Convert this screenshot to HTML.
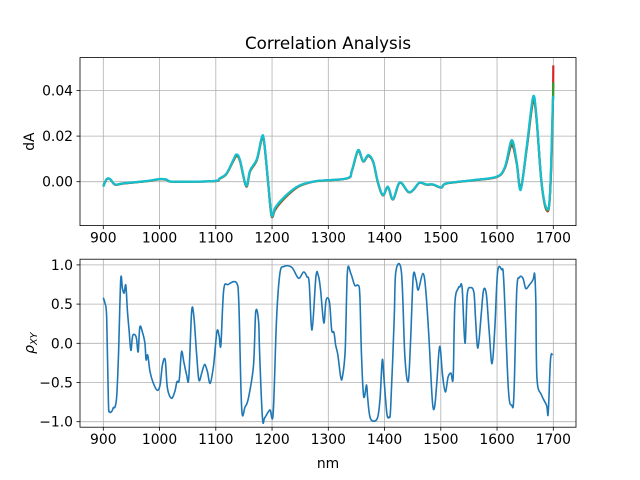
<!DOCTYPE html>
<html><head><meta charset="utf-8"><style>
html,body{margin:0;padding:0;background:#fff;}
svg{display:block;font-family:"DejaVu Sans","Liberation Sans",sans-serif;}
</style></head><body>
<svg id="chart" width="640" height="480" viewBox="0 0 640 480">
<rect width="640" height="480" fill="#fff"/>
<g id="topPanel"></g>
<g id="botPanel"></g>
<text x="328" y="49" text-anchor="middle" font-size="16.7">Correlation Analysis</text>
<text x="0" y="0" transform="translate(34,141.6) rotate(-90)" text-anchor="middle" font-size="13.9">dA</text>
<text x="0" y="0" transform="translate(34,343.2) rotate(-90)" text-anchor="middle" font-size="13.9"><tspan font-style="italic">ρ</tspan><tspan font-style="italic" font-size="9.7" dy="3">XY</tspan></text>
<text x="328" y="468" text-anchor="middle" font-size="13.9">nm</text>
</svg>
<script>
const xTicks=[900,1000,1100,1200,1300,1400,1500,1600,1700];
const topYTicks=[0.00,0.02,0.04];
const topYTickLabels=["0.00","0.02","0.04"];
const botYTicks=[-1.0,-0.5,0.0,0.5,1.0];
const botYTickLabels=["−1.0","−0.5","0.0","0.5","1.0"];
const specNm=[900,906,912,921,936,977,1001,1013,1024,1096,1107,1119,1131,1137,1143,1154,1161,1173,1182,1186,1193,1199,1205,1214,1232,1250,1279,1333,1342,1353,1362,1371,1380,1388,1397,1406,1415,1427,1442,1451,1462,1474,1486,1501,1510,1558,1599,1614,1626,1635,1642,1653,1664,1670,1679,1688,1694,1699,1700];
const specCyan=[-0.0022,0.0012,0.0012,-0.0012,-0.0007,0.0003,0.0012,0.0009,0,0.0003,0.0015,0.0036,0.0095,0.012,0.0095,-0.0017,0.005,0.010,0.0197,0.0175,0,-0.0146,-0.0116,-0.0087,-0.0044,-0.0015,0.0003,0.0015,0.005,0.0139,0.009,0.0117,0.0087,0,-0.0058,-0.0022,-0.0076,-0.0003,-0.0044,-0.0036,-0.0004,-0.0012,-0.0012,-0.0025,-0.0007,0.0007,0.0022,0.0065,0.0182,0.0087,-0.0036,0.016,0.0371,0.029,0,-0.0116,-0.0058,0.0335,0.036];
const specRed=[-0.0018,0.0010,0.0011,-0.0013,-0.0008,0.0002,0.0011,0.0008,0,0.0002,0.0013,0.0034,0.0090,0.0112,0.0090,-0.0021,0.0045,0.0095,0.0190,0.0170,-0.0004,-0.0150,-0.0125,-0.0095,-0.0050,-0.0018,0.0002,0.0014,0.0048,0.0135,0.0088,0.0113,0.0084,-0.0003,-0.0060,-0.0024,-0.0078,-0.0005,-0.0045,-0.0037,-0.0005,-0.0013,-0.0013,-0.0026,-0.0008,0.0006,0.0020,0.0060,0.0160,0.0080,-0.0030,0.0150,0.0350,0.0280,-0.0005,-0.0125,-0.0065,0.0300,0.051];
const rhoNm=[900,903,906,909,911,915,918,921,924,927,931,934,937,940,943,946,949,952,956,959,962,965,970,974,976,979,983,989,996,1001,1005,1010,1014,1021,1027,1031,1035,1039,1043,1048,1052,1057,1061,1066,1070,1075,1080,1085,1090,1096,1102,1106,1109,1114,1122,1137,1141,1146,1152,1158,1167,1171,1176,1178,1183,1187,1196,1202,1208,1214,1221,1235,1247,1256,1262,1266,1271,1278,1282,1286,1292,1296,1302,1306,1310,1313,1317,1322,1325,1330,1334,1340,1347,1353,1356,1359,1363,1368,1370,1375,1387,1392,1396,1399,1404,1408,1411,1417,1420,1430,1436,1442,1446,1451,1456,1460,1468,1473,1479,1485,1489,1493,1498,1503,1508,1513,1518,1522,1525,1531,1534,1538,1543,1547,1553,1559,1562,1566,1572,1576,1581,1586,1591,1596,1601,1608,1612,1620,1626,1630,1635,1640,1646,1651,1657,1664,1667,1669,1671,1679,1688,1691,1695,1699];
const rhoVals=[0.58,0.51,0.32,-0.74,-0.87,-0.87,-0.82,-0.81,-0.66,-0.15,0.81,0.70,0.64,0.74,0.40,0.15,-0.09,0.09,0.11,0.06,-0.11,0.21,0.13,0,-0.21,-0.15,-0.36,-0.51,-0.60,-0.53,-0.28,-0.21,-0.57,-0.70,-0.62,-0.49,-0.47,-0.11,-0.23,-0.40,-0.44,0.40,0.34,-0.15,-0.47,-0.38,-0.27,-0.36,-0.51,-0.28,0.15,0.09,-0.02,0.68,0.75,0.77,0.49,-0.83,-0.81,-0.70,-0.28,0.40,0.28,-0.15,-0.96,-0.95,-0.85,-0.89,0.32,0.89,0.98,0.97,0.83,0.91,0.85,0.77,0.17,0.85,0.87,0.70,0.26,0.55,0.53,0.17,0.14,-0.02,-0.15,-0.43,-0.43,-0.09,0.91,0.89,0.74,0.74,0.62,-0.15,-0.68,-0.53,-0.70,-0.96,-0.96,-0.70,-0.21,-0.45,-0.89,-0.94,-0.81,0.28,0.91,0.91,-0.15,-0.49,-0.02,0.85,0.81,0.68,0.89,0.70,0.06,-0.74,-0.81,-0.49,-0.04,-0.40,-0.62,-0.43,-0.38,-0.43,0.51,0.70,0.72,0.70,0,0.62,0.71,0.64,0.28,-0.06,0.38,0.68,0.62,0.15,-0.26,0.19,0.91,0.94,0.79,-0.57,-0.79,-0.66,0.66,0.84,0.83,0.70,0.74,0.81,0.88,0.49,-0.45,-0.66,-0.79,-0.89,-0.21,-0.14];

const NS="http://www.w3.org/2000/svg";
const L=80,R=576;
const xS=v=>103.3+(v-900)*0.5625;
const yTop=v=>181.7-v/0.02*45.6;
const yBot=v=>343.3-v/0.5*39.2;
function mk(tag,attrs,parent){const e=document.createElementNS(NS,tag);for(const k in attrs)e.setAttribute(k,attrs[k]);parent.appendChild(e);return e;}
function panel(g,t0,b0,yF,yTicks,yLabels,name){
  for(let i=0;i<xTicks.length;i++){const x=xS(xTicks[i]);
    const gl=mk('line',{x1:x,x2:x,y1:t0,y2:b0,stroke:'#b0b0b0','stroke-width':0.8},g);
    
    
    const tk=mk('line',{x1:x,x2:x,y1:b0,y2:b0+3.5,stroke:'#000','stroke-width':0.8},g);
    
    
    const t=mk('text',{x:x,y:b0+17,'text-anchor':'middle','font-size':13.9},g);t.textContent=xTicks[i];
    
    
  }
  for(let i=0;i<yTicks.length;i++){const y=yF(yTicks[i]);
    const gl=mk('line',{x1:L,x2:R,y1:y,y2:y,stroke:'#b0b0b0','stroke-width':0.8},g);
    
    
    const tk=mk('line',{x1:L-3.5,x2:L,y1:y,y2:y,stroke:'#000','stroke-width':0.8},g);
    
    
    const t=mk('text',{x:L-7,y:y+5,'text-anchor':'end','font-size':13.9},g);t.textContent=yLabels[i];
    
    
  }
}
function line(g,xs,ys,yF,color,name,w){
  const P=xs.map((v,i)=>[xS(v),yF(ys[i])]);
  let d='M'+P[0][0].toFixed(1)+','+P[0][1].toFixed(1);
  for(let i=0;i<P.length-1;i++){
    const p0=P[Math.max(0,i-1)],p1=P[i],p2=P[i+1],p3=P[Math.min(P.length-1,i+2)];
    const c1=[p1[0]+(p2[0]-p0[0])/6,p1[1]+(p2[1]-p0[1])/6];
    const c2=[p2[0]-(p3[0]-p1[0])/6,p2[1]-(p3[1]-p1[1])/6];
    d+='C'+c1[0].toFixed(1)+','+c1[1].toFixed(1)+' '+c2[0].toFixed(1)+','+c2[1].toFixed(1)+' '+p2[0].toFixed(1)+','+p2[1].toFixed(1);
  }
  const p=mk('path',{d:d,fill:'none',stroke:color,'stroke-width':w,'stroke-linejoin':'round'},g);
  
  
}
const topG=document.getElementById('topPanel'),botG=document.getElementById('botPanel');
panel(topG,57.6,225.6,yTop,topYTicks,topYTickLabels,'top');
line(topG,specNm,specRed,yTop,'#d62728','spectrum-red-line',2.2);
line(topG,specNm,specRed.map((v,i)=>(v+specCyan[i])/2),yTop,'#2ca02c','spectrum-green-line',2.2);
line(topG,specNm,specCyan,yTop,'#17becf','spectrum-cyan-line',2.2);
const f1=mk('rect',{x:L,y:57.6,width:R-L,height:168,fill:'none',stroke:'#000','stroke-width':0.8},topG);


panel(botG,259.2,427.2,yBot,botYTicks,botYTickLabels,'bottom');
line(botG,rhoNm,rhoVals,yBot,'#1f77b4','correlation-line',1.6);
const f2=mk('rect',{x:L,y:259.2,width:R-L,height:168,fill:'none',stroke:'#000','stroke-width':0.8},botG);


</script>
</body></html>
